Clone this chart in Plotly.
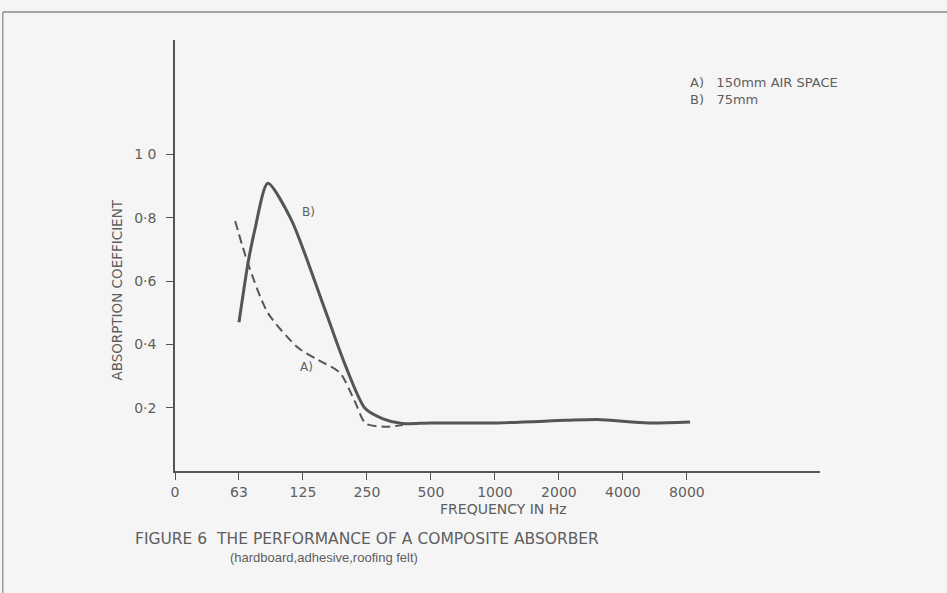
import plotly.graph_objects as go

# octave position on the x axis (0 = origin, 1 = 63 Hz, 2 = 125 Hz, ...)
tick_pos = [0, 1, 2, 3, 4, 5, 6, 7, 8]
tick_text = ['0', '63', '125', '250', '500', '1000', '2000', '4000', '8000']

y_ticks = [0.2, 0.4, 0.6, 0.8, 1.0]
y_text = ['0·2', '0·4', '0·6', '0·8', '1 0']

# A) 150mm air space (dashed)
a_x = [0.94, 1.14, 1.45, 1.92, 2.2, 2.34, 2.58, 2.81, 2.98, 3.28, 3.56]
a_y = [0.79, 0.656, 0.50, 0.39, 0.355, 0.34, 0.31, 0.22, 0.15, 0.14, 0.145]

# B) 75mm (solid)
b_x = [1.0, 1.14, 1.245, 1.45, 1.82, 2.29, 2.65, 2.97, 3.25, 3.55, 4.0, 5.05, 6.1, 6.6, 7.4, 8.05]
b_y = [0.47, 0.656, 0.76, 0.909, 0.793, 0.54, 0.34, 0.198, 0.165, 0.15, 0.152, 0.152, 0.16, 0.163, 0.152, 0.155]

ink = '#555555'
txt = '#5e5e5e'
font_fam = 'DejaVu Sans'

fig = go.Figure()

fig.add_trace(go.Scatter(x=a_x, y=a_y, mode='lines',
    line=dict(color=ink, width=2, dash='9px,5px', shape='spline', smoothing=0.7)))
fig.add_trace(go.Scatter(x=b_x, y=b_y, mode='lines',
    line=dict(color=ink, width=3, shape='spline', smoothing=0.7)))

fig.update_xaxes(
    range=[0, 10.08],
    tickvals=tick_pos, ticktext=tick_text,
    showgrid=False, zeroline=False,
    showline=True, linecolor=ink, linewidth=1.5,
    ticks='outside', ticklen=7, tickcolor=ink,
    tickfont=dict(size=14, color=txt, family=font_fam),
)
fig.update_yaxes(
    range=[0, 1.362],
    tickvals=y_ticks, ticktext=y_text,
    showgrid=False, zeroline=False,
    showline=True, linecolor=ink, linewidth=1.5,
    ticks='outside', ticklen=7, tickcolor=ink, ticklabelstandoff=7,
    tickfont=dict(size=14, color=txt, family=font_fam),
)

# curve labels
fig.add_annotation(x=2.08, y=0.82, text='B)', showarrow=False,
    font=dict(size=12, color=txt, family=font_fam))
fig.add_annotation(x=2.05, y=0.33, text='A)', showarrow=False,
    font=dict(size=12, color=txt, family=font_fam))

# key, axis titles and caption
notes = [
    dict(x=0.795, y=0.901, text='A)   150mm AIR SPACE', xanchor='left', size=13, fam=font_fam),
    dict(x=0.795, y=0.861, text='B)   75mm', xanchor='left', size=13, fam=font_fam),
    dict(x=0.51, y=-0.088, text='FREQUENCY IN Hz', xanchor='center', size=14, fam=font_fam),
    dict(x=-0.065, y=-0.158, text='FIGURE 6  THE PERFORMANCE OF A COMPOSITE ABSORBER', xanchor='left', size=15.5, fam=font_fam),
    dict(x=0.082, y=-0.200, text='(hardboard,adhesive,roofing felt)', xanchor='left', size=13, fam='Liberation Sans'),
]
for n in notes:
    fig.add_annotation(x=n['x'], y=n['y'], xref='paper', yref='paper', text=n['text'],
        showarrow=False, xanchor=n['xanchor'], yanchor='middle',
        font=dict(size=n['size'], color=txt, family=n['fam']))

fig.add_annotation(x=-0.106, y=0.42, xref='paper', yref='paper', text='ABSORPTION COEFFICIENT',
    showarrow=False, textangle=-90, font=dict(size=13.5, color=txt, family=font_fam))

# scanned page frame
fig.add_shape(type='line', xref='paper', yref='paper', x0=-0.267, x1=1.2, y0=1.065, y1=1.065,
    line=dict(color='#888888', width=1.5))
fig.add_shape(type='line', xref='paper', yref='paper', x0=-0.267, x1=-0.267, y0=1.065, y1=-0.3,
    line=dict(color='#999999', width=1.5))

fig.update_layout(
    width=947, height=593,
    margin=dict(l=175, r=127, t=40, b=122),
    showlegend=False,
    plot_bgcolor='#f5f5f5',
    paper_bgcolor='#f5f5f5',
)

fig.write_html('out.html', config={'displayModeBar': False},
    post_script="document.body.style.margin='0px';")
